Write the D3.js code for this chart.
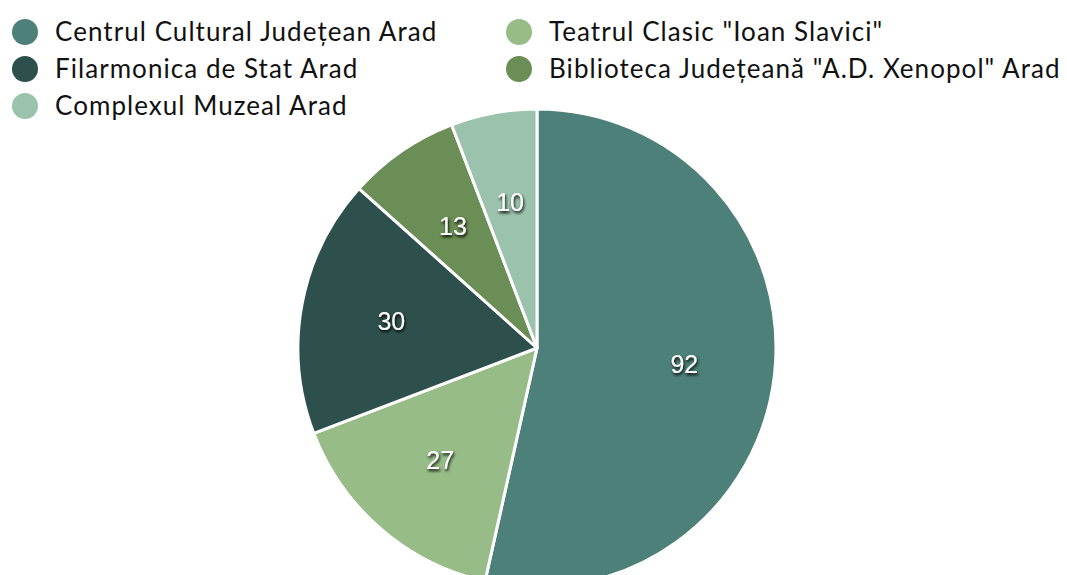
<!DOCTYPE html>
<html>
<head>
<meta charset="utf-8">
<script src="https://cdn.jsdelivr.net/npm/d3@7"></script>
<style>
  body { margin: 0; background: #fff; }
  svg { display: block; }
</style>
</head>
<body>
<div id="viz"></div>
<script>
// data
const categories = [
  'Centrul Cultural Județean Arad',
  'Teatrul Clasic "Ioan Slavici"',
  'Filarmonica de Stat Arad',
  'Biblioteca Județeană "A.D. Xenopol" Arad',
  'Complexul Muzeal Arad'
];
const values = [92, 27, 30, 13, 10];
const colors = ['#4d8078', '#97bc88', '#2e504d', '#6a8e55', '#9bc2ac'];

const config = {
  width: 1067,
  height: 575,
  cx: 537,
  cy: 348,
  radius: 239
};

const svg = d3.select('#viz').append('svg')
  .attr('width', config.width)
  .attr('height', config.height);

// drop shadow for slice labels
const filter = svg.append('defs').append('filter')
  .attr('id', 'shadow')
  .attr('x', '-50%').attr('y', '-50%')
  .attr('width', '200%').attr('height', '200%');
filter.append('feDropShadow')
  .attr('dx', 1).attr('dy', 2)
  .attr('stdDeviation', 1.6)
  .attr('flood-color', '#000')
  .attr('flood-opacity', 1);

const data = categories.map((c, i) => ({ name: c, value: values[i], color: colors[i] }));

const pie = d3.pie().sort(null).value(d => d.value);
const arc = d3.arc().innerRadius(0).outerRadius(config.radius);
const labelArc = d3.arc().innerRadius(config.radius * 0.62).outerRadius(config.radius * 0.62);

const g = svg.append('g')
  .attr('transform', `translate(${config.cx}, ${config.cy})`);

const arcs = pie(data);

g.selectAll('path')
  .data(arcs)
  .join('path')
  .attr('d', arc)
  .attr('fill', d => d.data.color)
  .attr('stroke', '#fff')
  .attr('stroke-width', 3)
  .attr('stroke-linejoin', 'round');

g.selectAll('text')
  .data(arcs)
  .join('text')
  .attr('transform', d => `translate(${labelArc.centroid(d)})`)
  .attr('text-anchor', 'middle')
  .attr('dy', '0.36em')
  .attr('fill', '#fff')
  .attr('filter', 'url(#shadow)')
  .style('font-family', '"Liberation Sans", Arial, sans-serif')
  .style('font-size', '25px')
  .text(d => d.data.value);

// legend, two columns row-major
const legend = svg.append('g');
const item = legend.selectAll('g')
  .data(data)
  .join('g')
  .attr('transform', (d, i) => `translate(${i % 2 === 0 ? 25 : 519}, ${32 + Math.floor(i / 2) * 37})`);

item.append('circle')
  .attr('r', 13)
  .attr('fill', d => d.color);

item.append('text')
  .attr('x', 30)
  .attr('dy', '0.35em')
  .attr('fill', '#111')
  .style('font-family', 'Lato, "Noto Sans", sans-serif')
  .style('font-size', '26px')
  .style('letter-spacing', '1.05px')
  .text(d => d.name);
</script>
</body>
</html>
